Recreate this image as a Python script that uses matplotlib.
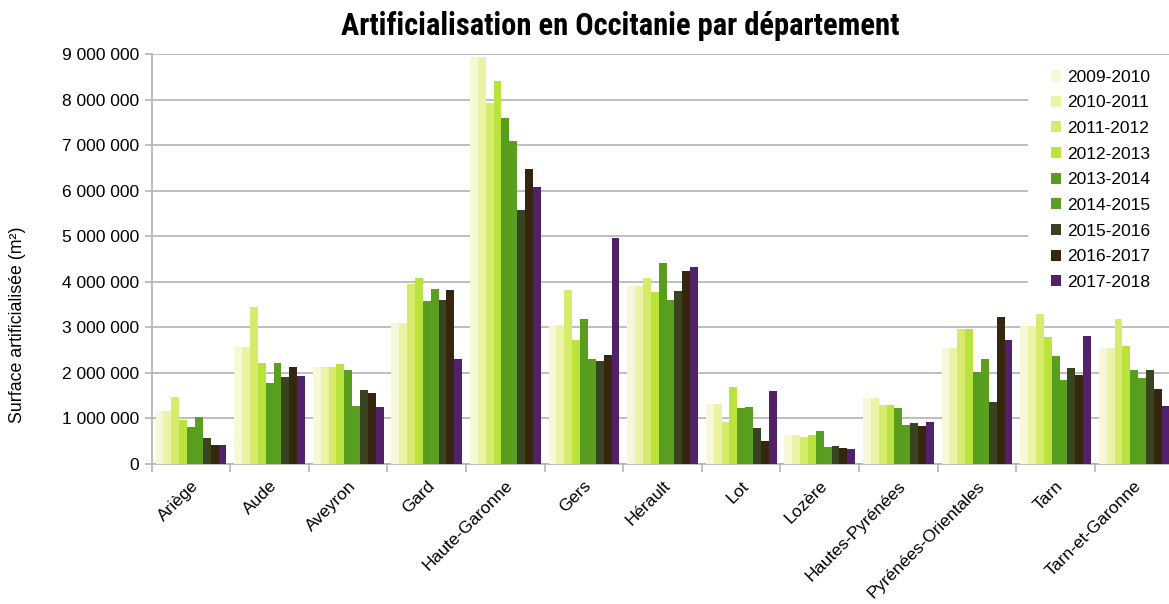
import matplotlib
matplotlib.use("Agg")
import matplotlib.pyplot as plt
import matplotlib.transforms as mtransforms
from matplotlib.patches import Rectangle
import numpy as np
from matplotlib import font_manager

departements = ["Ariège", "Aude", "Aveyron", "Gard", "Haute-Garonne", "Gers", "Hérault",
                "Lot", "Lozère", "Hautes-Pyrénées", "Pyrénées-Orientales", "Tarn", "Tarn-et-Garonne"]
periodes = ["2009-2010", "2010-2011", "2011-2012", "2012-2013", "2013-2014",
            "2014-2015", "2015-2016", "2016-2017", "2017-2018"]

v_2009_2010 = [1164000, 2570000, 2130000, 3100000, 8940000, 3050000, 3910000, 1320000, 640000, 1450000, 2550000, 3030000, 2550000]
v_2010_2011 = [1164000, 2570000, 2130000, 3100000, 8940000, 3050000, 3910000, 1320000, 640000, 1450000, 2550000, 3030000, 2550000]
v_2011_2012 = [1470000, 3450000, 2130000, 3950000, 7930000, 3820000, 4080000, 920000, 590000, 1300000, 2960000, 3290000, 3180000]
v_2012_2013 = [966000, 2220000, 2200000, 4080000, 8410000, 2720000, 3780000, 1690000, 640000, 1300000, 2960000, 2790000, 2590000]
v_2013_2014 = [810000, 1780000, 2060000, 3580000, 7600000, 3180000, 4410000, 1230000, 725000, 1230000, 2020000, 2370000, 2060000]
v_2014_2015 = [1030000, 2220000, 1270000, 3840000, 7090000, 2310000, 3600000, 1250000, 370000, 860000, 2310000, 1845000, 1890000]
v_2015_2016 = [570000, 1910000, 1625000, 3600000, 5580000, 2260000, 3800000, 790000, 395000, 900000, 1360000, 2110000, 2060000]
v_2016_2017 = [417000, 2130000, 1560000, 3820000, 6480000, 2390000, 4240000, 505000, 350000, 830000, 3230000, 1955000, 1650000]
v_2017_2018 = [417000, 1930000, 1250000, 2310000, 6080000, 4960000, 4330000, 1600000, 330000, 920000, 2720000, 2810000, 1270000]

series = [v_2009_2010, v_2010_2011, v_2011_2012, v_2012_2013, v_2013_2014,
          v_2014_2015, v_2015_2016, v_2016_2017, v_2017_2018]
colors = ["#f7f8d8", "#ecf2a6", "#d6ea6c", "#bbe33e", "#579d1e",
          "#5a9f1f", "#384320", "#36260f", "#53216a"]

names = {f.name for f in font_manager.fontManager.ttflist}
title_font = "Liberation Sans Narrow" if "Liberation Sans Narrow" in names else "Roboto Condensed" if "Roboto Condensed" in names else "Liberation Sans"
plt.rcParams['font.family'] = ['Liberation Sans', 'DejaVu Sans']

W, H = 1169, 604
fig = plt.figure(figsize=(W / 100, H / 100), dpi=100)
left, right, bottom, top = 151.7, 1173.5, 464, 54.3
ax = fig.add_axes([left / W, 1 - bottom / H, (right - left) / W, (bottom - top) / H])

n = len(departements)
ns = len(series)
x = np.arange(n)
group = 0.9
bw = group / ns
for i, (vals, c) in enumerate(zip(series, colors)):
    ax.bar(x - group / 2 + bw * (i + 0.5), vals, width=bw, color=c, label=periodes[i],
           zorder=3, linewidth=0)

ax.set_xlim(-0.5, n - 0.5)
ax.set_ylim(0, 9000000)
yt = np.arange(0, 9000001, 1000000)
ax.set_yticks(yt)
ax.set_yticklabels(["0" if v == 0 else f"{v:,.0f}".replace(",", " ") for v in yt], fontsize=12.5)
ax.yaxis.grid(True, color="#b3b3b3", linewidth=1.2, zorder=0)
ax.set_axisbelow(True)

ax.set_xticks(np.arange(-0.5, n, 1.0))
ax.set_xticklabels([])
ax.set_xticks(x, minor=True)
ax.set_xticklabels(departements, minor=True, rotation=45, ha="right", va="center",
                   rotation_mode="anchor", fontsize=12.5)
ax.tick_params(axis="x", which="minor", length=0, pad=14)
ax.tick_params(axis="x", which="major", length=6, color="#b3b3b3", width=1.2)
ax.tick_params(axis="y", length=5, color="#b3b3b3", width=1.2, pad=4)
off = mtransforms.ScaledTranslation(5 / 100, 0, fig.dpi_scale_trans)
for lbl in ax.get_xticklabels(minor=True):
    lbl.set_transform(lbl.get_transform() + off)

for s in ["top", "right"]:
    ax.spines[s].set_visible(False)
for s in ["left", "bottom"]:
    ax.spines[s].set_color("#b3b3b3")
    ax.spines[s].set_linewidth(1.2)

ax.set_ylabel("Surface artificialisée (m²)", fontsize=12.8)
ax.yaxis.set_label_coords((26 - left) / (right - left), (bottom - 325) / (bottom - top))

fig.text(620 / W, 1 - 26 / H, "Artificialisation en Occitanie par département",
         ha="center", va="center", fontsize=22, fontweight="bold", family=title_font)

# white legend background area
bg = Rectangle((1028 / W, 1 - 305 / H), (W - 1028) / W + 0.01, (305 - 62) / H,
               transform=fig.transFigure, facecolor="white", edgecolor="none", zorder=2)
fig.patches.append(bg)

leg = fig.legend(loc="upper left", bbox_to_anchor=(1051 / W, 1 - 69.5 / H),
                 frameon=False, fontsize=12.5, handlelength=0.6, handleheight=0.6,
                 handletextpad=0.32, labelspacing=0.615, borderpad=0, borderaxespad=0)

fig.savefig("out.png", dpi=100)
